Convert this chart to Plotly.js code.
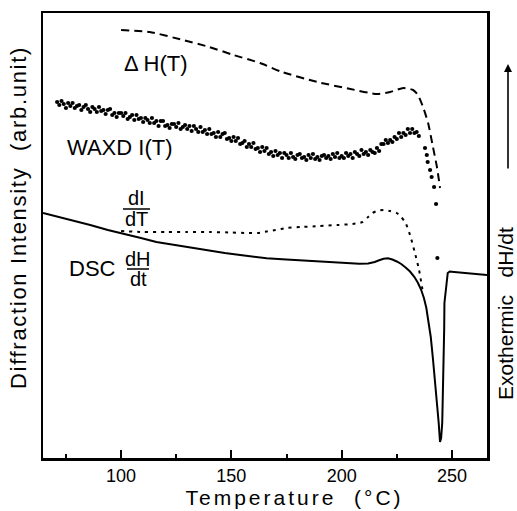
<!DOCTYPE html>
<html>
<head>
<meta charset="utf-8">
<script src="https://cdn.plot.ly/plotly-3.0.1.min.js"></script>
<style>
html,body{margin:0;padding:0;background:#fff;}
#chart{width:517px;height:511px;}
g.annotation[data-index="0"] text{letter-spacing:3px;}
g.annotation[data-index="1"] text{letter-spacing:1.7px;}
</style>
</head>
<body>
<div id="chart"></div>
<script>
// ---- data (temperature in °C, intensity in arbitrary units) ----
const dhT = [100, 113, 128, 140, 151, 163, 173, 189, 204, 216, 222, 228, 232.4, 234.6, 236.9, 239.2, 241.4, 243.2, 244.6];
const dhV = [428, 426, 418, 411, 403, 395, 386, 376, 369, 364, 366, 370, 368, 363, 351, 335, 311, 291, 270];

const waxdT = [71,72,73,74,75,76,77,78,79,80,81,82,83,84,85,86,87,88,89,90,
  91,92,93,94,95,96,97,98,99,100,101,102,103,104,105,106,107,108,109,110,
  111,112,113,114,115,116,117,118,119,120,121,122,123,124,125,126,127,128,129,130,
  131,132,133,134,135,136,137,138,139,140,141,142,143,144,145,146,147,148,149,150,
  151,152,153,154,155,156,157,158,159,160,161,162,163,164,165,166,167,168,169,170,
  171,172,173,174,175,176,177,178,179,180,181,182,183,184,185,186,187,188,189,190,
  191,192,193,194,195,196,197,198,199,200,201,202,203,204,205,206,207,208,209,210,
  211,212,213,214,215,216,217,218,219,220,221,222,223,224,225,226,227,228,229,230,
  231,232,233,234,235,237.8,238.6,239.0,240.1,240.8,241.9,242.8,243.4];
const waxdV = [356,353,357,354,350,355,352,355,350,352,353,348,351,353,349,346,351,349,346,351,
  347,348,344,348,349,343,345,341,345,345,342,345,339,341,343,338,343,339,340,336,
  340,338,335,340,335,337,332,337,337,332,333,330,334,334,331,335,329,331,333,329,
  332,327,332,329,326,331,326,328,324,329,324,325,321,326,321,324,325,319,320,317,
  321,317,320,314,315,317,311,314,311,315,309,310,306,311,307,310,304,306,302,307,
  303,305,300,305,303,300,305,301,299,303,304,300,301,298,303,300,304,299,301,298,
  302,303,300,302,299,304,301,305,300,302,300,305,302,304,300,306,304,302,308,304,
  306,303,308,306,305,310,307,314,314,318,315,318,316,321,319,325,321,325,323,329,
  325,329,325,326,322,310,303,296,288,281,271,254,200];

const ditT = [100, 110, 120, 130, 140, 150, 157, 162, 166, 170, 175, 182, 190, 198, 205, 209.5, 212, 214, 216, 219, 222, 225, 227, 229, 231, 233, 235, 236.9];
const ditV = [227, 226, 226, 226, 226, 225.5, 225, 225, 226.5, 228, 230, 231, 232, 233, 234, 236, 241, 245, 247, 248, 247, 245, 241, 235, 223, 207, 189, 165];

const dscT = [64.6, 70, 78, 86, 94, 102, 109, 116, 124, 132, 139, 147, 154, 160, 166, 173, 180, 188, 195, 202, 208, 212, 215, 217, 219, 221, 223, 225, 227, 229, 231, 233, 234.5, 236, 237.3, 238.4, 239.4, 240.4, 241.4, 242.3, 243.2, 244, 244.6, 245.1, 245.6, 246, 246.3, 246.5, 246.6, 246.9, 247.2, 247.6, 248.1, 249, 251, 255, 260, 265.9];
const dscV = [245, 242, 238, 233, 228, 224, 220, 216, 213, 210, 208, 205, 203, 201.3, 199.8, 198.7, 197.8, 196.8, 195.8, 194.8, 194.2, 194.5, 196, 197.8, 199.3, 199.7, 198.5, 196.5, 194, 190.5, 186.5, 181, 175.5, 168.5, 160, 150, 137, 121, 99, 79, 58, 35, 16, 20, 35, 68, 100, 130, 155, 160, 163, 175, 185, 186.5, 186, 185, 184, 183];

const xTickVals = [100, 150, 200, 250];
const xMinorVals = [75, 125, 175, 225];

const FONT = "Liberation Sans, Arial, sans-serif";

const traces = [
  {x: dhT, y: dhV, mode: 'lines', line: {color: '#000', width: 2, dash: '8px,5px', shape: 'spline', smoothing: 0.6}, hoverinfo: 'skip'},
  {x: ditT, y: ditV, mode: 'lines', line: {color: '#000', width: 2, dash: '3px,5px', shape: 'spline', smoothing: 0.6}, hoverinfo: 'skip'},
  {x: dscT, y: dscV, mode: 'lines', line: {color: '#000', width: 2}, hoverinfo: 'skip'},
  {x: waxdT, y: waxdV, mode: 'markers', marker: {color: '#000', size: 4.2}, hoverinfo: 'skip'}
];

const px = v => (v - 43) / 444;   // helper: pixel -> paper x
const py = v => (458 - v) / 445;  // helper: pixel -> paper y

const ann = (text, x, y, size, extra) => Object.assign({
  text: text, xref: 'paper', yref: 'paper', x: px(x), y: py(y),
  xanchor: 'center', yanchor: 'middle', showarrow: false, borderpad: 0,
  font: {family: FONT, size: size, color: '#000'}
}, extra || {});

const layout = {
  width: 517, height: 511,
  margin: {l: 43, r: 30, t: 13, b: 53},
  paper_bgcolor: '#fff', plot_bgcolor: '#fff',
  showlegend: false,
  xaxis: {
    range: [64.6, 265.9], tickvals: xTickVals, ticktext: xTickVals.map(String),
    ticks: 'inside', ticklen: 8, tickwidth: 2, tickcolor: '#000',
    minor: {tickvals: xMinorVals, ticks: 'inside', ticklen: 4, tickwidth: 2, tickcolor: '#000'},
    showline: true, linewidth: 2.5, linecolor: '#000', mirror: true,
    showgrid: false, zeroline: false,
    tickfont: {family: FONT, size: 18, color: '#000'}
  },
  yaxis: {
    range: [0, 445], showticklabels: false, ticks: '',
    showline: true, linewidth: 2.5, linecolor: '#000', mirror: true,
    showgrid: false, zeroline: false
  },
  annotations: [
    ann('Temperature  (°C)', 294, 497.5, 21),
    ann('Diffraction Intensity  (arb.unit)', 18, 218, 22, {textangle: -90}),
    ann('Exothermic   dH/dt', 505, 314, 21, {textangle: -90}),
    {x: px(508), y: py(64), ax: 0, ay: 106, xref: 'paper', yref: 'paper', axref: 'pixel', ayref: 'pixel',
     showarrow: true, arrowhead: 2, arrowsize: 1, arrowwidth: 1.6, arrowcolor: '#000', text: ''},
    ann('Δ H(T)', 156, 63, 22),
    ann('WAXD I(T)', 120, 147, 22),
    ann('dI', 136, 198, 20),
    ann('dT', 136, 219, 20),
    ann('DSC', 92, 268, 22),
    ann('dH', 138, 259, 20),
    ann('dt', 138, 279, 20)
  ],
  shapes: [
    {type: 'line', xref: 'paper', yref: 'paper', x0: px(123), x1: px(150), y0: py(209), y1: py(209), line: {color: '#000', width: 1.5}},
    {type: 'line', xref: 'paper', yref: 'paper', x0: px(127), x1: px(149), y0: py(269), y1: py(269), line: {color: '#000', width: 1.5}}
  ]
};

Plotly.newPlot('chart', traces, layout, {displayModeBar: false, staticPlot: true});
</script>
</body>
</html>
